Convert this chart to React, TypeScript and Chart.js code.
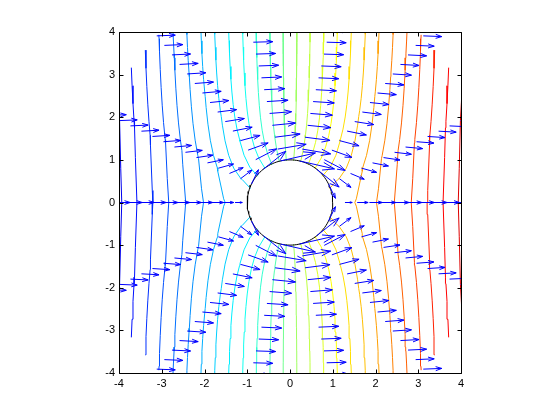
import React, { useEffect, useRef } from "react";
import { Chart, registerables } from "chart.js";

Chart.register(...registerables);

// ---- data ----
const X_TICKS = [-4, -3, -2, -1, 0, 1, 2, 3, 4];
const Y_TICKS = [-4, -3, -2, -1, 0, 1, 2, 3, 4];
const AXIS_MIN = -4;
const AXIS_MAX = 4;

// polar sampling grid (rays of arrows / contour mesh)
const RADII = [1, 1.2857, 1.5714, 1.8571, 2.1429, 2.4286, 2.7143, 3, 3.2857, 3.5714, 3.8571, 4.1429, 4.4286, 4.7143, 5];
const ANGLES_DEG = [0, 25.71, 51.43, 77.14, 102.86, 128.57, 154.29, 180, 205.71, 231.43, 257.14, 282.86, 308.57, 334.29, 360];

// contour levels of the velocity potential
const LEVELS = [
  -4.86, -4.53, -4.19, -3.86, -3.52, -3.19, -2.85, -2.52, -2.18, -1.85, -1.51, -1.17, -0.84, -0.5, -0.17,
  0.17, 0.5, 0.84, 1.17, 1.51, 1.85, 2.18, 2.52, 2.85, 3.19, 3.52, 3.86, 4.19, 4.53, 4.86,
];
const COLOR_LIMITS = [-5.2, 5.2];

const FREE_STREAM = 1;
const CYLINDER_RADIUS = 1;
const ARROW_SCALE = 0.43;
const HEAD_ALPHA = 0.33;
const HEAD_BETA = 0.33;

// ---- model of the plotted field ----
function potential(x: number, y: number) {
  const r2 = x * x + y * y;
  return FREE_STREAM * x * (1 + (CYLINDER_RADIUS * CYLINDER_RADIUS) / r2);
}
function velocity(x: number, y: number): [number, number] {
  const r2 = x * x + y * y;
  const r4 = r2 * r2;
  const a2 = CYLINDER_RADIUS * CYLINDER_RADIUS;
  return [FREE_STREAM * (1 - (a2 * (x * x - y * y)) / r4), (-FREE_STREAM * a2 * 2 * x * y) / r4];
}

// MATLAB jet(64)
function jet64(row: number): string {
  const m = 64;
  const n = Math.ceil(m / 4);
  const u: number[] = [];
  for (let k = 1; k <= n; k++) u.push(k / n);
  for (let k = 1; k < n; k++) u.push(1);
  for (let k = n; k >= 1; k--) u.push(k / n);
  const gOff = Math.ceil(n / 2) - (m % 4 === 1 ? 1 : 0);
  const chan = (off: number) => {
    const k = row - off;
    return k >= 1 && k <= u.length ? u[k - 1] : 0;
  };
  const r = chan(gOff + n);
  const g = chan(gOff);
  const b = chan(gOff - n);
  return `rgb(${Math.round(r * 255)},${Math.round(g * 255)},${Math.round(b * 255)})`;
}
function levelColor(level: number) {
  const [cmin, cmax] = COLOR_LIMITS;
  let row = Math.floor(((level - cmin) / (cmax - cmin)) * 64) + 1;
  row = Math.max(1, Math.min(64, row));
  return jet64(row);
}

type P = { x: number; y: number };
const GAP: P = { x: NaN, y: NaN };

function gridPoints() {
  const X: number[][] = [];
  const Y: number[][] = [];
  const Z: number[][] = [];
  for (let i = 0; i < RADII.length; i++) {
    X.push([]);
    Y.push([]);
    Z.push([]);
    for (let j = 0; j < ANGLES_DEG.length; j++) {
      const t = (ANGLES_DEG[j] * Math.PI) / 180;
      const x = RADII[i] * Math.cos(t);
      const y = RADII[i] * Math.sin(t);
      X[i].push(x);
      Y[i].push(y);
      Z[i].push(potential(x, y));
    }
  }
  return { X, Y, Z };
}

function contourData(level: number, X: number[][], Y: number[][], Z: number[][]): P[] {
  const out: P[] = [];
  for (let i = 0; i < RADII.length - 1; i++) {
    for (let j = 0; j < ANGLES_DEG.length - 1; j++) {
      const c = [
        [i, j],
        [i + 1, j],
        [i + 1, j + 1],
        [i, j + 1],
      ];
      const z = c.map(([a, b]) => Z[a][b]);
      const pts: (P | null)[] = [];
      for (let e = 0; e < 4; e++) {
        const p = c[e];
        const q = c[(e + 1) % 4];
        const za = z[e] - level;
        const zb = z[(e + 1) % 4] - level;
        if (za * zb < 0) {
          const t = za / (za - zb);
          pts.push({
            x: X[p[0]][p[1]] + t * (X[q[0]][q[1]] - X[p[0]][p[1]]),
            y: Y[p[0]][p[1]] + t * (Y[q[0]][q[1]] - Y[p[0]][p[1]]),
          });
        } else pts.push(null);
      }
      const found = pts.filter((p) => p) as P[];
      if (found.length === 2) {
        out.push(found[0], found[1], GAP);
      } else if (found.length === 4) {
        const center = (z[0] + z[1] + z[2] + z[3]) / 4 - level;
        if (center * (z[0] - level) > 0) {
          out.push(pts[0]!, pts[1]!, GAP, pts[2]!, pts[3]!, GAP);
        } else {
          out.push(pts[3]!, pts[0]!, GAP, pts[1]!, pts[2]!, GAP);
        }
      }
    }
  }
  return out;
}

function arrowData(X: number[][], Y: number[][]): P[] {
  const out: P[] = [];
  for (let i = 0; i < RADII.length; i++) {
    for (let j = 0; j < ANGLES_DEG.length - 1; j++) {
      const x = X[i][j];
      const y = Y[i][j];
      const [u, v] = velocity(x, y);
      const uu = u * ARROW_SCALE;
      const vv = v * ARROW_SCALE;
      if (Math.hypot(uu, vv) < 1e-6) continue;
      const tip = { x: x + uu, y: y + vv };
      const h1 = { x: tip.x - HEAD_ALPHA * (uu + HEAD_BETA * vv), y: tip.y - HEAD_ALPHA * (vv - HEAD_BETA * uu) };
      const h2 = { x: tip.x - HEAD_ALPHA * (uu - HEAD_BETA * vv), y: tip.y - HEAD_ALPHA * (vv + HEAD_BETA * uu) };
      out.push({ x, y }, tip, GAP, h1, tip, h2, GAP);
    }
  }
  return out;
}

function circleData(): P[] {
  const out: P[] = [];
  for (let d = 0; d <= 360; d += 3) {
    const t = (d * Math.PI) / 180;
    out.push({ x: CYLINDER_RADIUS * Math.cos(t), y: CYLINDER_RADIUS * Math.sin(t) });
  }
  return out;
}

const boxPlugin = {
  id: "matlabBox",
  afterDatasetsDraw(chart: any) {
    const { ctx, chartArea, scales } = chart;
    const L = Math.round(chartArea.left) + 0.5;
    const R = Math.round(chartArea.right) + 0.5;
    const T = Math.round(chartArea.top) + 0.5;
    const B = Math.round(chartArea.bottom) + 0.5;
    const tl = 4;
    ctx.save();
    ctx.strokeStyle = "#000";
    ctx.lineWidth = 1;
    ctx.beginPath();
    ctx.rect(L, T, R - L, B - T);
    for (const v of X_TICKS) {
      const px = Math.round(scales.x.getPixelForValue(v)) + 0.5;
      ctx.moveTo(px, B);
      ctx.lineTo(px, B - tl);
      ctx.moveTo(px, T);
      ctx.lineTo(px, T + tl);
    }
    for (const v of Y_TICKS) {
      const py = Math.round(scales.y.getPixelForValue(v)) + 0.5;
      ctx.moveTo(L, py);
      ctx.lineTo(L + tl, py);
      ctx.moveTo(R, py);
      ctx.lineTo(R - tl, py);
    }
    ctx.stroke();
    ctx.restore();
  },
};

export default function App() {
  const ref = useRef<HTMLCanvasElement | null>(null);
  useEffect(() => {
    if (!ref.current) return;
    const { X, Y, Z } = gridPoints();
    const datasets: any[] = [];
    datasets.push({
      data: arrowData(X, Y),
      borderColor: "#0000ff",
      borderWidth: 1,
      showLine: true,
      pointRadius: 0,
      spanGaps: false,
      clip: 0,
    });
    datasets.push({
      data: circleData(),
      borderColor: "#000000",
      borderWidth: 1,
      showLine: true,
      pointRadius: 0,
      clip: 0,
    });
    for (const lv of LEVELS) {
      datasets.push({
        data: contourData(lv, X, Y, Z),
        borderColor: levelColor(lv),
        borderWidth: 1,
        showLine: true,
        pointRadius: 0,
        spanGaps: false,
        clip: 0,
      });
    }
    const font = { family: "'Liberation Sans', Arial, sans-serif", size: 11 };
    const chart = new Chart(ref.current, {
      type: "scatter",
      data: { datasets },
      options: {
        responsive: false,
        animation: false,
        events: [],
        layout: { padding: { left: 0, right: 99, top: 32, bottom: 0 } },
        plugins: { legend: { display: false }, tooltip: { enabled: false } },
        scales: {
          x: {
            type: "linear",
            min: AXIS_MIN,
            max: AXIS_MAX,
            afterBuildTicks: (s: any) => {
              s.ticks = X_TICKS.map((v) => ({ value: v }));
            },
            ticks: { font, color: "#000", padding: 4, maxRotation: 0, autoSkip: false, callback: (v: any) => String(v) },
            grid: { display: false, drawTicks: false },
            border: { display: false },
            afterFit: (s: any) => {
              s.height = 47;
            },
          },
          y: {
            type: "linear",
            min: AXIS_MIN,
            max: AXIS_MAX,
            afterBuildTicks: (s: any) => {
              s.ticks = Y_TICKS.map((v) => ({ value: v }));
            },
            ticks: { font, color: "#000", padding: 4, autoSkip: false, callback: (v: any) => String(v) },
            grid: { display: false, drawTicks: false },
            border: { display: false },
            afterFit: (s: any) => {
              s.width = 119;
            },
          },
        },
      } as any,
      plugins: [boxPlugin],
    });
    return () => chart.destroy();
  }, []);
  return (
    <div style={{ position: "fixed", left: 0, top: 0, width: 560, height: 420, background: "#fff" }}>
      <canvas ref={ref} width={560} height={420} style={{ display: "block", width: 560, height: 420 }} />
    </div>
  );
}
